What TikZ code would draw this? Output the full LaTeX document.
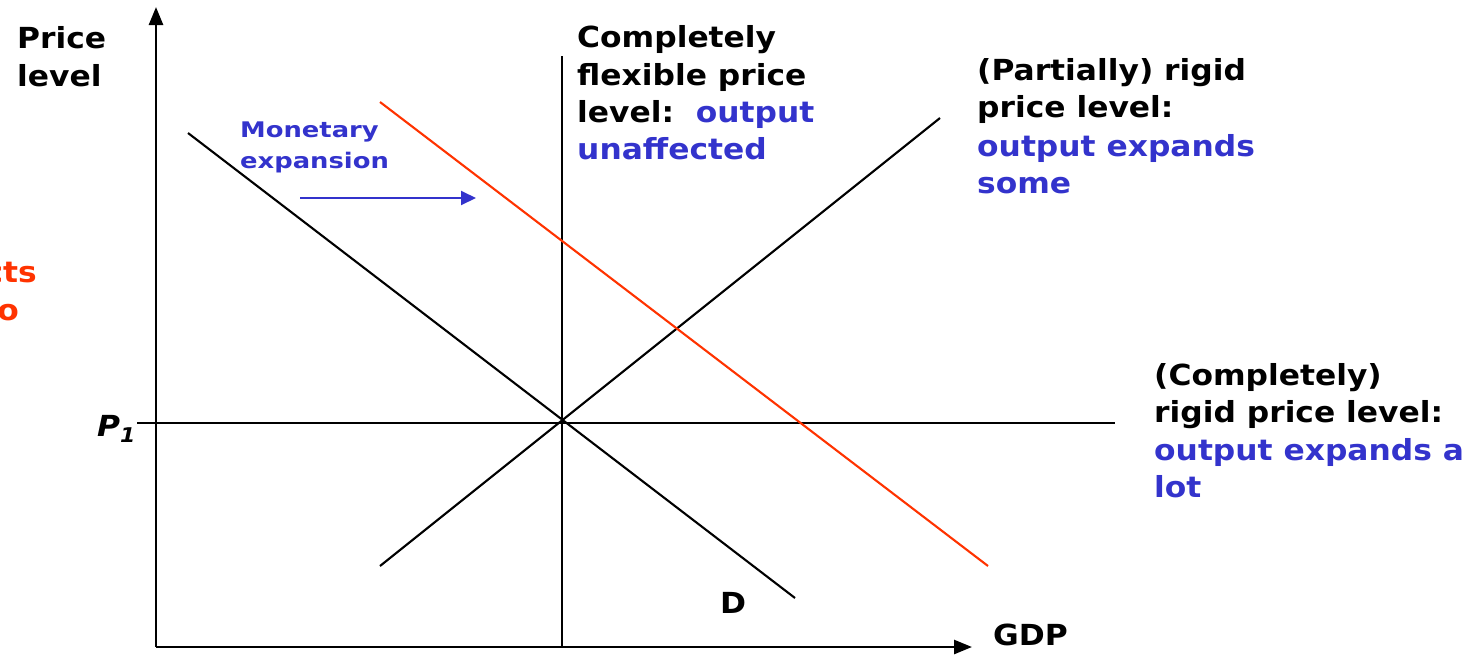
\documentclass[tikz,border=0pt]{standalone}
\usepackage{fontspec}
\setmainfont[FakeStretch=1.08]{DejaVu Sans}
\newfontfamily\smallfam[FakeStretch=1.2]{DejaVu Sans}
\usetikzlibrary{arrows.meta}
\definecolor{myblue}{HTML}{3333CC}
\definecolor{myred}{HTML}{FF3300}
\begin{document}
\begin{tikzpicture}[x=1pt,y=-1pt,
  lbl/.style={anchor=base west,inner sep=0pt,font=\fontsize{29}{38}\selectfont\bfseries},
  small/.style={anchor=base west,inner sep=0pt,font=\smallfam\fontsize{21.5}{26}\selectfont\bfseries,text=myblue},
  axis/.style={line width=2.6pt,-{Triangle[length=18pt,width=14pt]}},
  curve/.style={line width=2.1pt}]
\useasboundingbox (0,0) rectangle (1476,657);
\clip (0,0) rectangle (1476,657);
% coordinates
\coordinate (O) at (156,647);
\coordinate (Ytop) at (156,7);
\coordinate (Xend) at (972,647);
\coordinate (Vtop) at (562,56);
\coordinate (Vbot) at (562,647);
\coordinate (Hl) at (137,423);
\coordinate (Hr) at (1115,423);
\coordinate (Dt) at (188,133);
\coordinate (Db) at (795,598);
\coordinate (Sb) at (380,566);
\coordinate (St) at (940,118);
\coordinate (Rt) at (380,102);
\coordinate (Rb) at (988,566);
\coordinate (Aa) at (300,198);
\coordinate (Ab) at (476,198);
% axes
\draw[axis] (O) -- (Ytop);
\draw[axis] (O) -- (Xend);
% lines
\draw[curve] (Vtop) -- (Vbot);
\draw[curve] (Hl) -- (Hr);
\draw[curve] (Dt) -- (Db);
\draw[curve] (Sb) -- (St);
\draw[curve,myred] (Rt) -- (Rb);
\draw[line width=2pt,myblue,-{Triangle[length=15pt,width=14pt]}] (Aa) -- (Ab);
% labels
\node[lbl] (pl1) at (17,48) {Price};
\node[lbl] (pl2) at (17,86) {level};
\node[lbl,text=myred,anchor=base east] (rc1) at (37,282) {cts};
\node[lbl,text=myred,anchor=base east] (rc2) at (19,320) {o};
\node[lbl] (p1) at (97,436) {\itshape P\textsubscript{1}};
\node[lbl] (dl) at (720,613) {D};
\node[lbl] (gdp) at (993,645) {GDP};
\node[small] (m1) at (240,137) {Monetary};
\node[small] (m2) at (240,168) {expansion};
\node[lbl] (c1) at (577,47) {Completely};
\node[lbl] (c2) at (577,85) {flexible price};
\node[lbl] (c3) at (577,122) {level:\ \ \textcolor{myblue}{output}};
\node[lbl,text=myblue] (c4) at (577,159) {unaffected};
\node[lbl] (r1) at (977,80) {(Partially) rigid};
\node[lbl] (r2) at (977,117) {price level:};
\node[lbl,text=myblue] (r3) at (977,156) {output expands};
\node[lbl,text=myblue] (r4) at (977,193) {some};
\node[lbl] (k1) at (1154,385) {(Completely)};
\node[lbl] (k2) at (1154,422) {rigid price level:};
\node[lbl,text=myblue] (k3) at (1154,460) {output expands a};
\node[lbl,text=myblue] (k4) at (1154,497) {lot};
\end{tikzpicture}
\end{document}
